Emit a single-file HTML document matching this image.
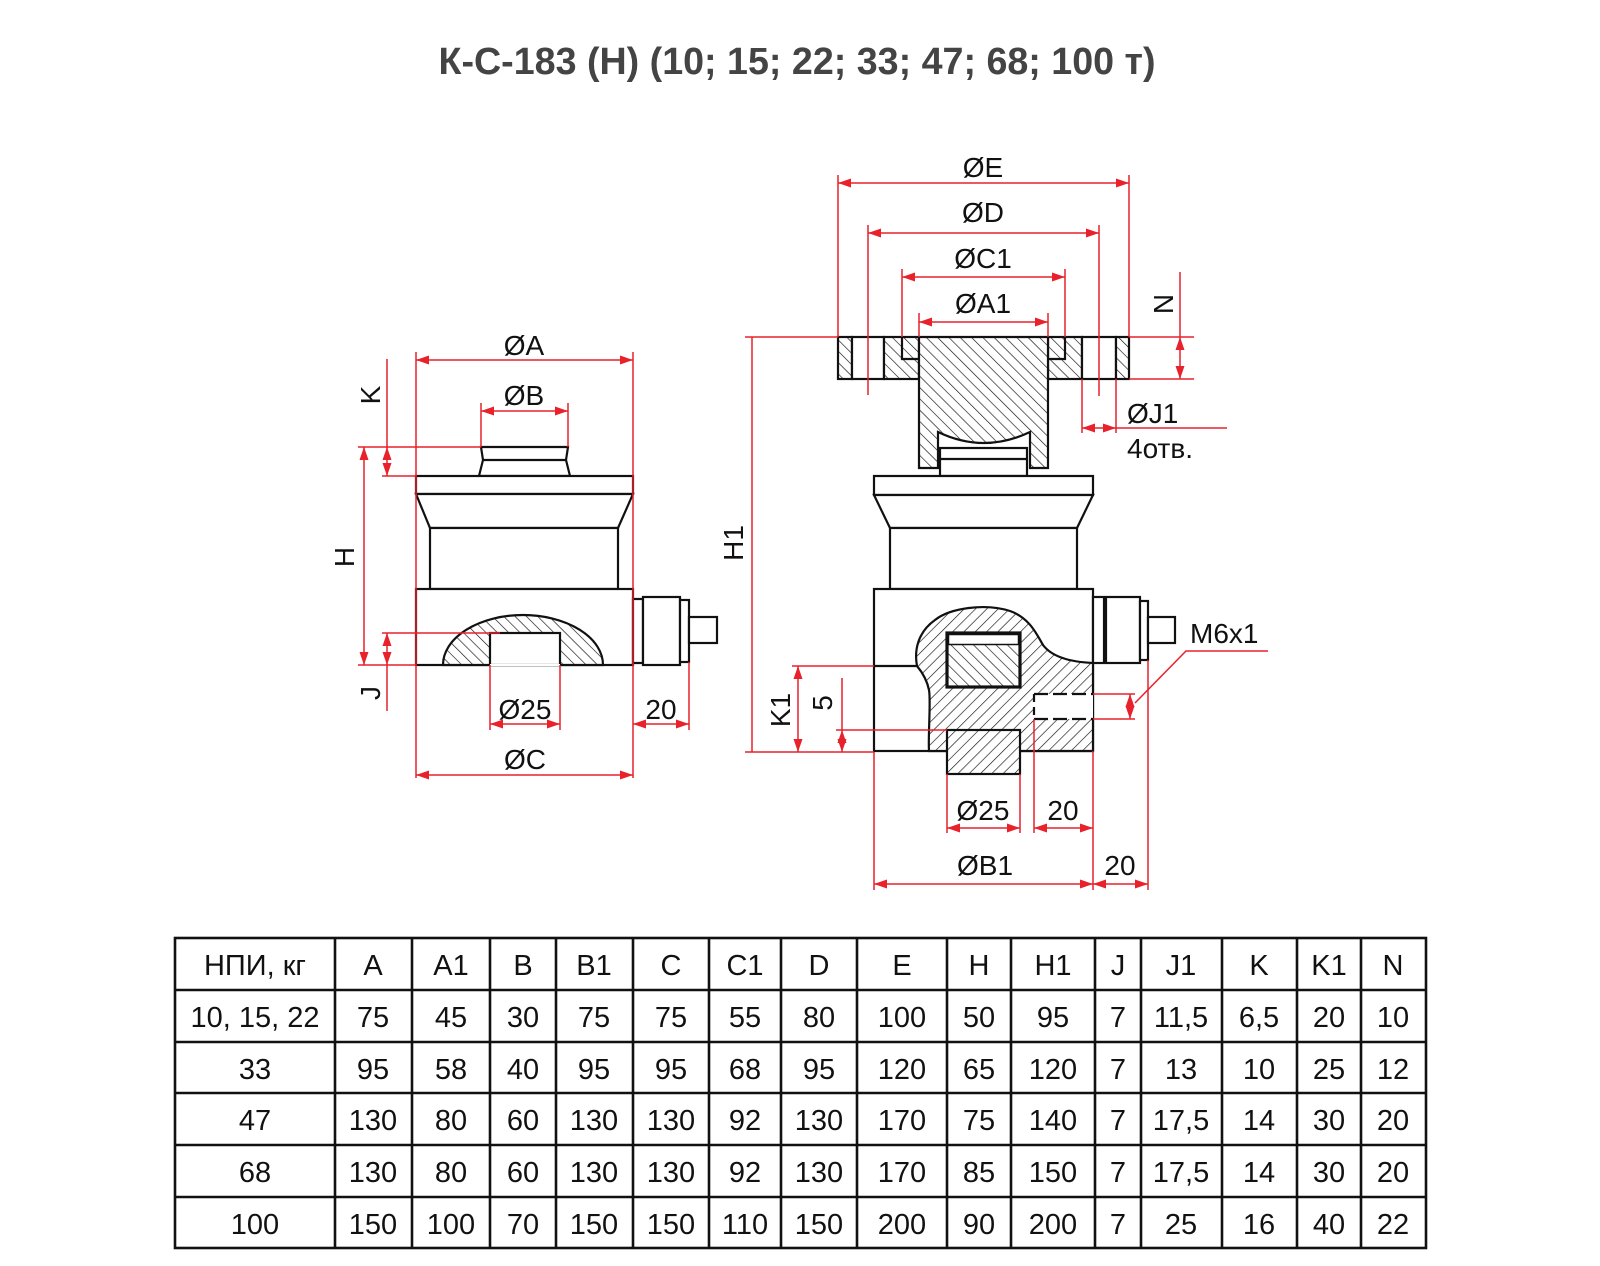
<!DOCTYPE html>
<html><head><meta charset="utf-8"><style>
html,body{margin:0;padding:0;background:#fff;}
svg{display:block;}
text{font-family:"Liberation Sans","DejaVu Sans",sans-serif;}
</style></head><body>
<svg width="1600" height="1266" viewBox="0 0 1600 1266" xmlns="http://www.w3.org/2000/svg">
<defs>
<marker id="ar" markerUnits="userSpaceOnUse" markerWidth="14" markerHeight="10" refX="13" refY="4.5" orient="auto-start-reverse"><path d="M0,0 L13,4.5 L0,9 z" fill="#e8212b"/></marker>
<pattern id="hb" patternUnits="userSpaceOnUse" width="8" height="8" patternTransform="rotate(-45)"><rect width="8" height="8" fill="#fff"/><line x1="0" y1="0" x2="0" y2="8" stroke="#111" stroke-width="1.3"/></pattern>
<pattern id="hf" patternUnits="userSpaceOnUse" width="8" height="8" patternTransform="rotate(45)"><rect width="8" height="8" fill="#fff"/><line x1="0" y1="0" x2="0" y2="8" stroke="#111" stroke-width="1.3"/></pattern>
</defs>

<text x="797" y="74" text-anchor="middle" font-size="38" font-weight="bold" fill="#444" textLength="717" lengthAdjust="spacingAndGlyphs">К-С-183 (Н) (10; 15; 22; 33; 47; 68; 100 т)</text>

<!-- LEFT DRAWING black -->
<g fill="#fff" stroke="#111" stroke-width="2.2">
<polygon points="481,447 568,447 566,460 570,476 479,476 483,460"/>
<line x1="483" y1="460" x2="566" y2="460"/>
<rect x="416" y="476" width="217" height="18"/>
<polygon points="416,494 633,494 618,528 430,528"/>
<rect x="430" y="528" width="188" height="61"/>
<rect x="416" y="589" width="217" height="76"/>
<path d="M443,665 A80,50 0 0 1 603,665 Z" fill="url(#hb)"/>
<rect x="490" y="633" width="70" height="32"/>
<rect x="633" y="599" width="10" height="64"/>
<rect x="643" y="597" width="37" height="68"/>
<rect x="680" y="600" width="9" height="62"/>
<rect x="689" y="617" width="28" height="26"/>
</g>
<line x1="490" y1="665" x2="560" y2="665" stroke="#fff" stroke-width="2"/>

<!-- LEFT red dims -->
<g stroke="#e8212b" stroke-width="1.5" fill="none">
<line x1="416" y1="352" x2="416" y2="778"/><line x1="633" y1="352" x2="633" y2="778"/>
<line x1="416" y1="360" x2="633" y2="360" marker-start="url(#ar)" marker-end="url(#ar)"/>
<line x1="481" y1="403" x2="481" y2="447"/><line x1="568" y1="403" x2="568" y2="447"/>
<line x1="481" y1="411" x2="568" y2="411" marker-start="url(#ar)" marker-end="url(#ar)"/>
<line x1="387" y1="359" x2="387" y2="447"/>
<line x1="387" y1="447" x2="387" y2="476" marker-start="url(#ar)" marker-end="url(#ar)"/>
<line x1="364" y1="447" x2="364" y2="665" marker-start="url(#ar)" marker-end="url(#ar)"/>
<line x1="358" y1="447" x2="481" y2="447"/>
<line x1="382" y1="476" x2="416" y2="476"/>
<line x1="382" y1="633" x2="500" y2="633"/>
<line x1="358" y1="665" x2="416" y2="665"/>
<line x1="387" y1="633" x2="387" y2="665" marker-start="url(#ar)" marker-end="url(#ar)"/>
<line x1="387" y1="665" x2="387" y2="711"/>
<line x1="490" y1="665" x2="490" y2="730"/><line x1="560" y1="665" x2="560" y2="730"/>
<line x1="490" y1="724" x2="560" y2="724" marker-start="url(#ar)" marker-end="url(#ar)"/>
<line x1="689" y1="662" x2="689" y2="730"/>
<line x1="633" y1="724" x2="689" y2="724" marker-start="url(#ar)" marker-end="url(#ar)"/>
<line x1="416" y1="775" x2="633" y2="775" marker-start="url(#ar)" marker-end="url(#ar)"/>
</g>
<g font-size="28" fill="#111" text-anchor="middle">
<text x="524" y="355">ØA</text>
<text x="524" y="405">ØB</text>
<text x="525" y="719">Ø25</text>
<text x="661" y="719">20</text>
<text x="525" y="769">ØC</text>
<text transform="translate(380,395) rotate(-90)">K</text>
<text transform="translate(354,557) rotate(-90)">H</text>
<text transform="translate(380,693) rotate(-90)">J</text>
</g>

<!-- RIGHT DRAWING black -->
<g stroke="#111" stroke-width="2.2">
<rect x="838" y="337" width="14" height="42" fill="url(#hb)"/>
<rect x="852" y="337" width="32" height="42" fill="#fff"/>
<rect x="884" y="337" width="35" height="42" fill="url(#hb)"/>
<rect x="1048" y="337" width="34" height="42" fill="url(#hb)"/>
<rect x="1082" y="337" width="34" height="42" fill="#fff"/>
<rect x="1116" y="337" width="13" height="42" fill="url(#hb)"/>
<rect x="940" y="448" width="87" height="28" fill="#fff"/>
<line x1="940" y1="459" x2="1027" y2="459"/>
<path d="M919,337 H1048 V468 H1030 V432 Q984,454 938,432 V468 H919 Z" fill="url(#hb)"/>
<path d="M902,337 V359 H919 M1065,337 V359 H1048" fill="none"/>
<rect x="874" y="476" width="219" height="19" fill="#fff"/>
<polygon points="874,495 1093,495 1077,528 890,528" fill="#fff"/>
<rect x="890" y="528" width="187" height="61" fill="#fff"/>
<rect x="874" y="589" width="219" height="162" fill="#fff"/>
<line x1="874" y1="666" x2="917" y2="666"/>
<path d="M917,666 C914,650 918,632 935,620 C950,608 985,603 1010,611 C1030,618 1037,635 1043,645 C1052,657 1070,662 1093,663 V751 H929 C928,735 931,700 929,690 C927,680 922,672 917,666 Z" fill="url(#hf)"/>
<rect x="1034" y="694" width="59" height="25" fill="#fff" stroke="none"/>
<line x1="1034" y1="694" x2="1093" y2="694" stroke-dasharray="14,5"/>
<line x1="1034" y1="719" x2="1093" y2="719" stroke-dasharray="14,5"/>
<line x1="1034" y1="694" x2="1034" y2="719" stroke-dasharray="8,5"/>
<rect x="947" y="633" width="73" height="54" fill="url(#hb)" stroke-width="3.2"/>
<rect x="948.5" y="634.5" width="70" height="10" fill="#fff" stroke-width="1.5"/>
<rect x="947" y="730" width="73" height="44" fill="url(#hf)"/>
<rect x="1093" y="597" width="11" height="66" fill="#fff"/>
<rect x="1106" y="597" width="34" height="66" fill="#fff"/>
<rect x="1140" y="601" width="8" height="59" fill="#fff"/>
<rect x="1148" y="617" width="27" height="26" fill="#fff"/>
</g>

<!-- RIGHT red dims -->
<g stroke="#e8212b" stroke-width="1.5" fill="none">
<line x1="838" y1="175" x2="838" y2="337"/><line x1="1129" y1="175" x2="1129" y2="337"/>
<line x1="838" y1="183" x2="1129" y2="183" marker-start="url(#ar)" marker-end="url(#ar)"/>
<line x1="868" y1="225" x2="868" y2="395"/><line x1="1099" y1="225" x2="1099" y2="396"/>
<line x1="868" y1="233" x2="1099" y2="233" marker-start="url(#ar)" marker-end="url(#ar)"/>
<line x1="902" y1="269" x2="902" y2="337"/><line x1="1065" y1="269" x2="1065" y2="337"/>
<line x1="902" y1="277" x2="1065" y2="277" marker-start="url(#ar)" marker-end="url(#ar)"/>
<line x1="919" y1="313" x2="919" y2="337"/><line x1="1048" y1="313" x2="1048" y2="337"/>
<line x1="919" y1="322" x2="1048" y2="322" marker-start="url(#ar)" marker-end="url(#ar)"/>
<line x1="745" y1="337" x2="838" y2="337"/>
<line x1="1129" y1="337" x2="1194" y2="337"/>
<line x1="1129" y1="379" x2="1194" y2="379"/>
<line x1="752" y1="337" x2="752" y2="752"/>
<line x1="1180" y1="272" x2="1180" y2="337"/>
<line x1="1180" y1="337" x2="1180" y2="379" marker-start="url(#ar)" marker-end="url(#ar)"/>
<line x1="1082" y1="379" x2="1082" y2="433"/><line x1="1116" y1="379" x2="1116" y2="433"/>
<line x1="1082" y1="428" x2="1116" y2="428" marker-start="url(#ar)" marker-end="url(#ar)"/>
<line x1="1116" y1="428" x2="1227" y2="428"/>
<line x1="792" y1="666" x2="874" y2="666"/>
<line x1="745" y1="752" x2="874" y2="752"/>
<line x1="798" y1="666" x2="798" y2="752" marker-start="url(#ar)" marker-end="url(#ar)"/>
<line x1="842" y1="678" x2="842" y2="730"/>
<line x1="842" y1="730" x2="842" y2="752" marker-start="url(#ar)" marker-end="url(#ar)"/>
<line x1="836" y1="730" x2="947" y2="730"/>
<line x1="1093" y1="694" x2="1135" y2="694"/><line x1="1093" y1="719" x2="1135" y2="719"/>
<line x1="1130" y1="694" x2="1130" y2="719" marker-start="url(#ar)" marker-end="url(#ar)"/>
<polyline points="1135,703 1186,651 1268,651"/>
<line x1="947" y1="774" x2="947" y2="833"/><line x1="1020" y1="774" x2="1020" y2="833"/>
<line x1="947" y1="828" x2="1020" y2="828" marker-start="url(#ar)" marker-end="url(#ar)"/>
<line x1="1034" y1="719" x2="1034" y2="833"/>
<line x1="1034" y1="828" x2="1093" y2="828" marker-start="url(#ar)" marker-end="url(#ar)"/>
<line x1="874" y1="752" x2="874" y2="890"/><line x1="1093" y1="751" x2="1093" y2="890"/>
<line x1="1148" y1="660" x2="1148" y2="890"/>
<line x1="874" y1="884" x2="1093" y2="884" marker-start="url(#ar)" marker-end="url(#ar)"/>
<line x1="1093" y1="884" x2="1148" y2="884" marker-start="url(#ar)" marker-end="url(#ar)"/>
</g>
<g font-size="28" fill="#111" text-anchor="middle">
<text x="983" y="177">ØE</text>
<text x="983" y="222">ØD</text>
<text x="983" y="268">ØC1</text>
<text x="983" y="313">ØA1</text>
<text x="983" y="820">Ø25</text>
<text x="1063" y="820">20</text>
<text x="985" y="875">ØB1</text>
<text x="1120" y="875">20</text>
<text transform="translate(743,543) rotate(-90)">H1</text>
<text transform="translate(1173,304) rotate(-90)">N</text>
<text transform="translate(790,710) rotate(-90)">K1</text>
<text transform="translate(832,703) rotate(-90)">5</text>
<text x="1127" y="423" text-anchor="start">ØJ1</text>
<text x="1127" y="458" text-anchor="start">4отв.</text>
<text x="1190" y="643" text-anchor="start">M6x1</text>
</g>

<!-- TABLE -->
<g stroke="#111" stroke-width="2.6" fill="none">
<rect x="175" y="938" width="1251" height="310"/>
<line x1="175" y1="990" x2="1426" y2="990"/>
<line x1="175" y1="1042" x2="1426" y2="1042"/>
<line x1="175" y1="1093" x2="1426" y2="1093"/>
<line x1="175" y1="1145" x2="1426" y2="1145"/>
<line x1="175" y1="1197" x2="1426" y2="1197"/>
<line x1="335" y1="938" x2="335" y2="1248"/><line x1="412" y1="938" x2="412" y2="1248"/>
<line x1="490" y1="938" x2="490" y2="1248"/><line x1="556" y1="938" x2="556" y2="1248"/>
<line x1="633" y1="938" x2="633" y2="1248"/><line x1="709" y1="938" x2="709" y2="1248"/>
<line x1="781" y1="938" x2="781" y2="1248"/><line x1="857" y1="938" x2="857" y2="1248"/>
<line x1="947" y1="938" x2="947" y2="1248"/><line x1="1011" y1="938" x2="1011" y2="1248"/>
<line x1="1095" y1="938" x2="1095" y2="1248"/><line x1="1141" y1="938" x2="1141" y2="1248"/>
<line x1="1222" y1="938" x2="1222" y2="1248"/><line x1="1297" y1="938" x2="1297" y2="1248"/>
<line x1="1361" y1="938" x2="1361" y2="1248"/>
</g>
<g font-size="29" fill="#111" text-anchor="middle">
<g transform="translate(0,975)">
<text x="255">НПИ, кг</text><text x="373">A</text><text x="451">A1</text><text x="523">B</text><text x="594">B1</text><text x="671">C</text><text x="745">C1</text><text x="819">D</text><text x="902">E</text><text x="979">H</text><text x="1053">H1</text><text x="1118">J</text><text x="1181">J1</text><text x="1259">K</text><text x="1329">K1</text><text x="1393">N</text>
</g>
<g transform="translate(0,1027)">
<text x="255">10, 15, 22</text><text x="373">75</text><text x="451">45</text><text x="523">30</text><text x="594">75</text><text x="671">75</text><text x="745">55</text><text x="819">80</text><text x="902">100</text><text x="979">50</text><text x="1053">95</text><text x="1118">7</text><text x="1181">11,5</text><text x="1259">6,5</text><text x="1329">20</text><text x="1393">10</text>
</g>
<g transform="translate(0,1079)">
<text x="255">33</text><text x="373">95</text><text x="451">58</text><text x="523">40</text><text x="594">95</text><text x="671">95</text><text x="745">68</text><text x="819">95</text><text x="902">120</text><text x="979">65</text><text x="1053">120</text><text x="1118">7</text><text x="1181">13</text><text x="1259">10</text><text x="1329">25</text><text x="1393">12</text>
</g>
<g transform="translate(0,1130)">
<text x="255">47</text><text x="373">130</text><text x="451">80</text><text x="523">60</text><text x="594">130</text><text x="671">130</text><text x="745">92</text><text x="819">130</text><text x="902">170</text><text x="979">75</text><text x="1053">140</text><text x="1118">7</text><text x="1181">17,5</text><text x="1259">14</text><text x="1329">30</text><text x="1393">20</text>
</g>
<g transform="translate(0,1182)">
<text x="255">68</text><text x="373">130</text><text x="451">80</text><text x="523">60</text><text x="594">130</text><text x="671">130</text><text x="745">92</text><text x="819">130</text><text x="902">170</text><text x="979">85</text><text x="1053">150</text><text x="1118">7</text><text x="1181">17,5</text><text x="1259">14</text><text x="1329">30</text><text x="1393">20</text>
</g>
<g transform="translate(0,1234)">
<text x="255">100</text><text x="373">150</text><text x="451">100</text><text x="523">70</text><text x="594">150</text><text x="671">150</text><text x="745">110</text><text x="819">150</text><text x="902">200</text><text x="979">90</text><text x="1053">200</text><text x="1118">7</text><text x="1181">25</text><text x="1259">16</text><text x="1329">40</text><text x="1393">22</text>
</g>
</g>
</svg>
</body></html>
